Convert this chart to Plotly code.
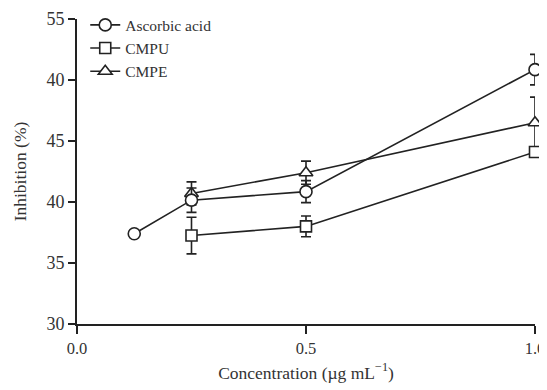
import plotly.graph_objects as go

conc_aa = [0.125, 0.25, 0.5, 1.0]
inhib_aa = [37.4, 40.15, 40.85, 50.85]
err_aa = [0.0, 1.0, 0.9, 1.25]

conc_cmpu = [0.25, 0.5, 1.0]
inhib_cmpu = [37.25, 38.0, 44.1]
err_cmpu = [1.5, 0.85, 0.3]

conc_cmpe = [0.25, 0.5, 1.0]
inhib_cmpe = [40.7, 42.4, 46.5]
err_cmpe = [0.95, 0.95, 2.1]

ytick_vals = [30, 35, 40, 45, 50, 55]
ytick_text = ["30", "35", "40", "45", "40", "55"]
xtick_vals = [0.0, 0.5, 1.0]
xtick_text = ["0.0", "0.5", "1.0"]

ink = "#222222"
txt = "#333333"
font = "Liberation Serif, Times New Roman, serif"

def trace(name, x, y, e, symbol, size, rank):
    return go.Scatter(
        x=x, y=y, name=name, mode="lines+markers", legendrank=rank,
        line=dict(color=ink, width=1.6),
        marker=dict(symbol=symbol, size=size, color="white", line=dict(color=ink, width=1.6)),
        error_y=dict(type="data", array=e, visible=True, color=ink, thickness=1.6, width=5),
        cliponaxis=False,
    )

fig = go.Figure()
fig.add_trace(trace("CMPE", conc_cmpe, inhib_cmpe, err_cmpe, "triangle-up", 12, 3))
fig.add_trace(trace("CMPU", conc_cmpu, inhib_cmpu, err_cmpu, "square", 11, 2))
fig.add_trace(trace("Ascorbic acid", conc_aa, inhib_aa, err_aa, "circle", 12, 1))

# page body has an 8px default margin; margins compensate so the plot lands where the reference has it
fig.update_layout(
    width=547, height=390,
    margin=dict(l=69, r=20, t=11, b=74, autoexpand=False),
    paper_bgcolor="white", plot_bgcolor="white",
    font=dict(family=font, size=17, color=txt),
    showlegend=True,
    legend=dict(x=0.018, y=1.035, xanchor="left", yanchor="top", bgcolor="rgba(0,0,0,0)",
                font=dict(family=font, size=15.5, color=txt), tracegroupgap=0,
                itemwidth=30),
    xaxis=dict(range=[0, 1.0], tickvals=xtick_vals, ticktext=xtick_text, automargin=False,
               tickfont=dict(family=font, size=16.5, color=txt),
               showgrid=False, zeroline=False, showline=True, linecolor=ink, linewidth=1.6,
               ticks="outside", ticklen=8, tickwidth=1.6, tickcolor=ink,
               title=dict(text="Concentration (µg mL<sup>−1</sup>)", standoff=10,
                          font=dict(family=font, size=17.5, color=txt))),
    yaxis=dict(range=[30, 55], tickvals=ytick_vals, ticktext=ytick_text, automargin=False,
               tickfont=dict(family=font, size=18, color=txt),
               showgrid=False, zeroline=False, showline=True, linecolor=ink, linewidth=1.6,
               ticks="outside", ticklen=7, tickwidth=1.6, tickcolor=ink,
               title=dict(text="Inhibition (%)", standoff=15,
                          font=dict(family=font, size=17.5, color=txt))),
)

fig.write_html("out.html")
